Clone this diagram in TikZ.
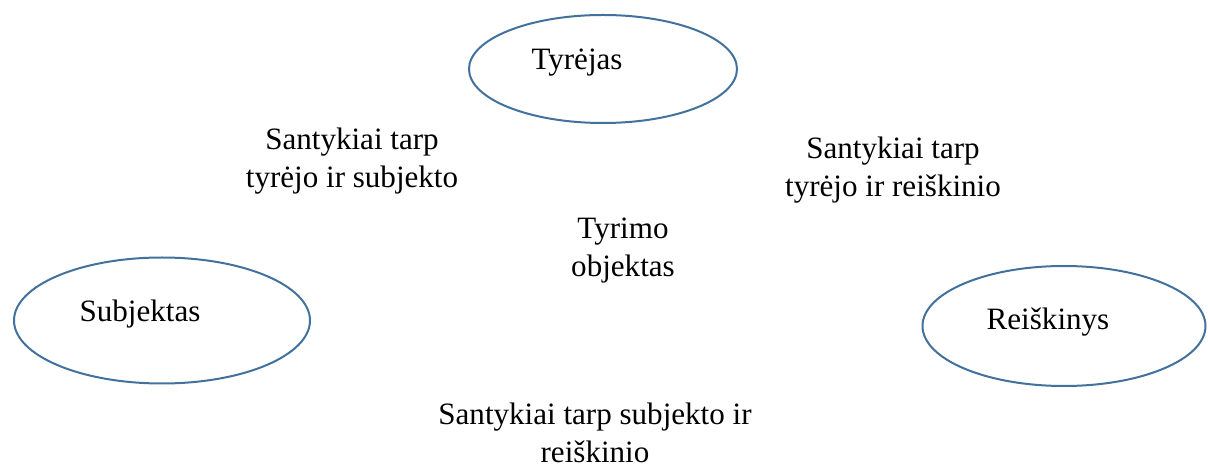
\documentclass[tikz,border=0pt]{standalone}
\usepackage{fontspec}
\setmainfont{Liberation Serif}
\usetikzlibrary{shapes.geometric}
\definecolor{outline}{RGB}{65,113,156}
\begin{document}
\begin{tikzpicture}[x=0.75pt,y=-0.75pt,
  oval/.style={draw=outline,line width=1.5pt,ellipse,inner sep=0pt},
  lbl/.style={font=\fontsize{23.3}{29}\selectfont,inner sep=0pt,anchor=base,align=center}]
\useasboundingbox (0,0) rectangle (1208,470);
% ellipses
\node[oval,minimum width=268*0.75pt,minimum height=108*0.75pt] (tyrejas) at (603,69) {};
\node[oval,minimum width=296*0.75pt,minimum height=126*0.75pt] (subjektas) at (162,320.5) {};
\node[oval,minimum width=283*0.75pt,minimum height=120*0.75pt] (reiskinys) at (1064,326) {};
% ellipse labels
\node[lbl] (tyrejasT) at (577,70) {Tyrėjas};
\node[lbl] (subjektasT) at (140,322) {Subjektas};
\node[lbl] (reiskinysT) at (1048,330) {Reiškinys};
% relation texts (anchored at the baseline of the last line)
\node[lbl] (ts) at (352,188) {Santykiai tarp\\tyrėjo ir subjekto};
\node[lbl] (tr) at (893,197) {Santykiai tarp\\tyrėjo ir reiškinio};
\node[lbl] (obj) at (623,277) {Tyrimo\\objektas};
\node[lbl] (sr) at (595,463) {Santykiai tarp subjekto ir\\reiškinio};
\end{tikzpicture}
\end{document}
